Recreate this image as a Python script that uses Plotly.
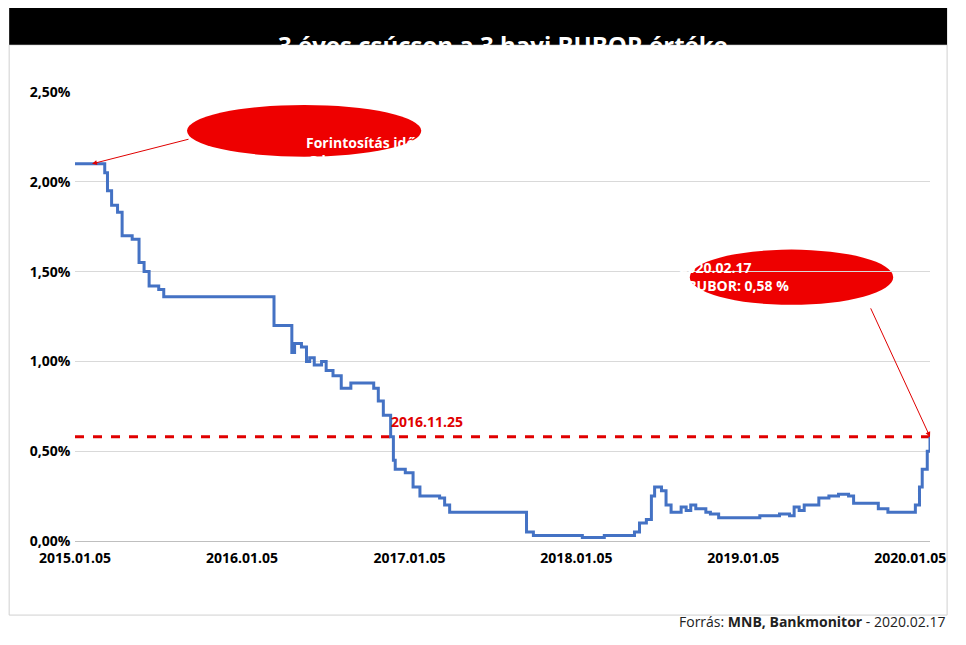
import plotly.graph_objects as go

# 3 havi BUBOR (%), step points
dates = ['2015-01-05', '2015-02-28', '2015-03-11', '2015-03-17', '2015-03-26', '2015-04-08',
         '2015-04-18', '2015-05-10', '2015-05-25', '2015-06-05', '2015-06-16', '2015-07-07',
         '2015-07-18', '2016-03-15', '2016-04-16', '2016-04-23', '2016-04-29', '2016-05-14',
         '2016-05-25', '2016-06-01', '2016-06-11', '2016-06-27', '2016-07-07', '2016-07-22',
         '2016-08-09', '2016-08-30', '2016-10-19', '2016-10-29', '2016-11-09', '2016-11-25',
         '2016-12-01', '2016-12-05', '2016-12-27', '2017-01-13', '2017-01-28', '2017-03-12',
         '2017-03-23', '2017-04-03', '2017-09-18', '2017-10-03', '2018-01-18', '2018-03-07',
         '2018-05-12', '2018-05-23', '2018-06-07', '2018-06-18', '2018-06-25', '2018-07-10',
         '2018-07-20', '2018-07-31', '2018-08-22', '2018-09-02', '2018-09-12', '2018-09-23',
         '2018-10-15', '2018-10-25', '2018-11-12', '2019-02-10', '2019-03-25', '2019-04-16',
         '2019-04-26', '2019-05-07', '2019-05-18', '2019-06-19', '2019-07-11', '2019-08-01',
         '2019-08-23', '2019-09-03', '2019-10-27', '2019-11-17', '2020-01-10', '2020-01-16',
         '2020-01-25', '2020-01-31', '2020-02-11', '2020-02-17']
bubor = [2.10, 2.10, 2.05, 1.95, 1.87, 1.83,
         1.70, 1.68, 1.55, 1.50, 1.42, 1.40,
         1.36, 1.20, 1.20, 1.05, 1.10, 1.08,
         1.00, 1.02, 0.98, 1.00, 0.95, 0.92,
         0.85, 0.88, 0.85, 0.78, 0.70, 0.58,
         0.45, 0.40, 0.38, 0.30, 0.25, 0.24,
         0.20, 0.16, 0.05, 0.03, 0.02, 0.03,
         0.05, 0.10, 0.12, 0.25, 0.30, 0.28,
         0.20, 0.16, 0.19, 0.17, 0.20, 0.18,
         0.16, 0.15, 0.13, 0.14, 0.15, 0.14,
         0.19, 0.17, 0.20, 0.24, 0.25, 0.26,
         0.25, 0.21, 0.18, 0.16, 0.16, 0.20,
         0.30, 0.40, 0.50, 0.58]
bubor = [v / 100 for v in bubor]
tick_dates = ['2015-01-05', '2016-01-05', '2017-01-05', '2018-01-05', '2019-01-05', '2020-01-05']
tick_labels = ['2015.01.05', '2016.01.05', '2017.01.05', '2018.01.05', '2019.01.05', '2020.01.05']
last_date, last_value = '2020-02-17', 0.0058
start_date, start_value = '2015-01-05', 0.0210
cross_date = '2016-11-25'

fig = go.Figure()
fig.add_trace(go.Scatter(x=[start_date, last_date], y=[last_value, last_value], mode='lines',
                         line=dict(color='#e00000', width=3, dash='dash'), hoverinfo='skip'))
fig.add_trace(go.Scatter(x=dates, y=bubor, mode='lines', line_shape='hv',
                         line=dict(color='#4472c4', width=3)))

# title bar and frame
fig.add_shape(type='rect', xref='paper', yref='paper', x0=-0.077, x1=1.02, y0=-0.165, y1=1.105,
              line=dict(color='#d0d0d0', width=1), fillcolor='rgba(0,0,0,0)', layer='below')
fig.add_shape(type='rect', xref='paper', yref='paper', x0=-0.077, x1=1.02, y0=1.105, y1=1.19,
              line=dict(width=0), fillcolor='black', layer='below')
fig.add_annotation(xref='paper', yref='paper', x=0.5, y=1.148, showarrow=False,
                   text='3 éves csúcson a 3 havi BUBOR értéke',
                   font=dict(color='white', size=24, weight='bold'))

# red ellipses
fig.add_shape(type='circle', xref='paper', yref='paper', x0=0.131, x1=0.405, y0=0.856, y1=0.971,
              fillcolor='#ee0000', line=dict(width=0), layer='below')
fig.add_annotation(xref='paper', yref='paper', x=0.268, y=0.913, showarrow=False,
                   text='Forintosítás időpontja<br>3 havi BUBOR: 2,10 %',
                   font=dict(color='white', size=14, weight='bold'))
fig.add_shape(type='circle', xref='paper', yref='paper', x0=0.719, x1=0.957, y0=0.526, y1=0.649,
              fillcolor='#ee0000', line=dict(width=0), layer='below')
fig.add_annotation(xref='paper', yref='paper', x=0.838, y=0.588, showarrow=False,
                   text='2020.02.17<br>3 havi BUBOR: 0,58 %',
                   font=dict(color='white', size=14, weight='bold'))

# arrows
fig.add_annotation(x=start_date, y=start_value, ax=98, ay=-25, showarrow=True, arrowhead=2,
                   arrowcolor='#e00000', arrowwidth=1, text='', xshift=17)
fig.add_annotation(x=last_date, y=last_value, ax=-60, ay=-130, showarrow=True, arrowhead=2,
                   arrowcolor='#e00000', arrowwidth=1, text='')
fig.add_annotation(x=cross_date, y=last_value, text='2016.11.25', showarrow=False,
                   xanchor='left', yanchor='bottom', yshift=4, xshift=-2,
                   font=dict(color='#e00000', size=14, weight='bold'))

fig.add_annotation(xref='paper', yref='paper', x=1.02, y=-0.205, showarrow=False, xanchor='right',
                   text='Forrás: <b>MNB, Bankmonitor</b> - 2020.02.17',
                   font=dict(color='#222222', size=14))

fig.update_layout(
    width=950, height=629, showlegend=False, separators=', ',
    margin=dict(l=67, r=18, t=84, b=96),
    plot_bgcolor='rgba(0,0,0,0)', paper_bgcolor='white',
    font=dict(family='Open Sans', color='black'),
    xaxis=dict(range=[start_date, last_date], tickvals=tick_dates, ticktext=tick_labels,
               showgrid=False, showline=True, linecolor='#bfbfbf', ticks='',
               tickfont=dict(size=14, weight='bold'), zeroline=False, ticklabelstandoff=4),
    yaxis=dict(range=[0, 0.025], dtick=0.005, tickformat='.2%', showgrid=True,
               gridcolor='#d9d9d9', zeroline=False, tickfont=dict(size=14, weight='bold'),
               ticksuffix=' '),
)
fig.write_html('out.html')
